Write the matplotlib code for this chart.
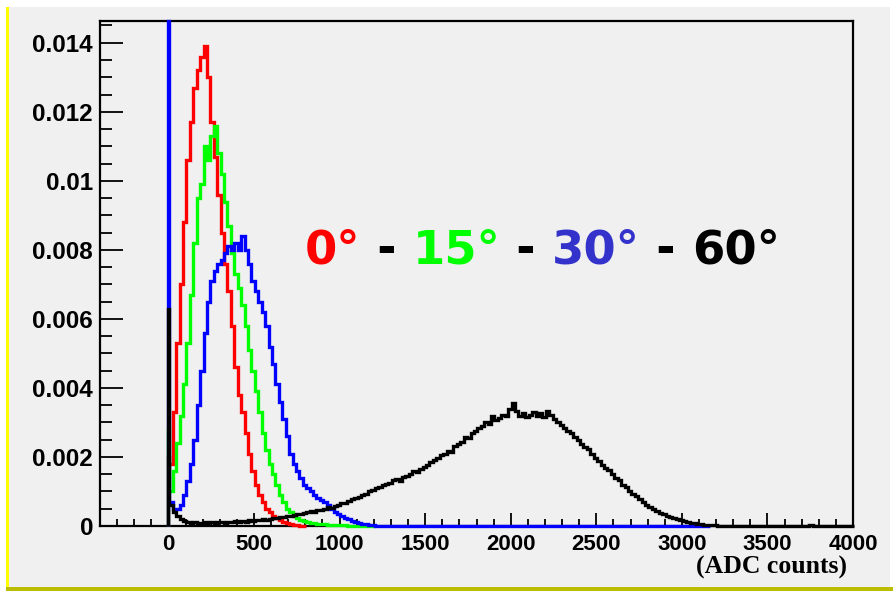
import numpy as np
import matplotlib
matplotlib.use('Agg')
import matplotlib.pyplot as plt
from matplotlib.patches import Rectangle
from matplotlib.ticker import FixedLocator, MultipleLocator

# histogram contents: first value is the narrow bin at 0, the rest are 20-count bins starting at 5
spike_width = 5
bin_width = 20

red_0deg = [0.0020,
            0.0018, 0.0033, 0.0053, 0.0070, 0.0088, 0.0106, 0.0117, 0.0127, 0.0132, 0.0136,
            0.0139, 0.0130, 0.0117, 0.0107, 0.0096, 0.0085, 0.0076, 0.0068, 0.0058, 0.0046,
            0.0038, 0.0033, 0.0027, 0.0021, 0.0016, 0.0012, 0.0009, 0.0007, 0.0005, 0.0004,
            0.0003, 0.00022, 0.00016, 0.00011, 0.00008, 0.00006, 0.00004, 0.00002, 0.00001, 0.00001]

green_15deg = [0.0028,
               0.0010, 0.0016, 0.0024, 0.0032, 0.0041, 0.0053, 0.0067, 0.0082, 0.0095, 0.0099,
               0.0110, 0.0106, 0.0113, 0.0116, 0.0108, 0.0102, 0.0094, 0.0087, 0.0079, 0.0073,
               0.0069, 0.0064, 0.0058, 0.0051, 0.0045, 0.0039, 0.0033, 0.0027, 0.0022, 0.0018,
               0.0015, 0.0012, 0.0009, 0.0007, 0.0005, 0.0004, 0.0003, 0.00023, 0.00018, 0.00014,
               0.00011, 0.0001, 0.00008, 0.00007, 0.00006, 0.00005, 0.00004, 0.00004, 0.00003, 0.00003,
               0.00002, 0.00002, 0.00001, 0.00001, 0.0, 0.0, 0.0, 0.0, 0.0, 0.00001]

blue_30deg = [0.01463,
              0.0007, 0.0005, 0.0005, 0.0006, 0.0009, 0.0013, 0.0018, 0.0025, 0.0035, 0.0045,
              0.0056, 0.0065, 0.0071, 0.0074, 0.0076, 0.0077, 0.0079, 0.0081, 0.0080, 0.0082,
              0.0080, 0.0084, 0.0080, 0.0076, 0.0071, 0.0068, 0.0065, 0.0062, 0.0058, 0.0052,
              0.0047, 0.0041, 0.0036, 0.0031, 0.0026, 0.0021, 0.0018, 0.0016, 0.0014, 0.0012,
              0.0011, 0.0010, 0.0009, 0.0008, 0.00075, 0.0007, 0.0006, 0.0005, 0.0004, 0.00035,
              0.0003, 0.00024, 0.0002, 0.00015, 0.00012, 0.0001, 0.00007, 0.00005, 0.00003, 0.00002] + [0.0] * 98

black_60deg = [0.0063,
               0.0006, 0.0004, 0.00028, 0.0002, 0.00014, 0.00011, 0.0001, 0.00012, 0.0001, 0.00009,
               0.00011, 0.0001, 0.00013, 0.0001, 0.00011, 0.00012, 0.0001, 0.00013, 0.00012, 0.00014,
               0.00011, 0.00015, 0.00013, 0.00016, 0.00015, 0.00018, 0.00016, 0.0002, 0.00018, 0.00021,
               0.00024, 0.00022, 0.00027, 0.00025, 0.0003, 0.00029, 0.00033, 0.00035, 0.00034, 0.00039,
               0.0004, 0.00043, 0.00042, 0.00047, 0.00046, 0.0005, 0.00054, 0.00053, 0.00059, 0.00062,
               0.00066, 0.00068, 0.00073, 0.00077, 0.00082, 0.00085, 0.00091, 0.00094, 0.001, 0.00104,
               0.0011, 0.00112, 0.00119, 0.00122, 0.00126, 0.00133, 0.00135, 0.00131, 0.00142, 0.00145,
               0.0015, 0.00158, 0.00155, 0.00166, 0.00172, 0.00176, 0.00186, 0.0019, 0.00198, 0.00205,
               0.0021, 0.00218, 0.00215, 0.00232, 0.00238, 0.00242, 0.00258, 0.00255, 0.00268, 0.00275,
               0.00284, 0.0029, 0.00302, 0.00296, 0.00318, 0.00306, 0.00312, 0.00322, 0.00318, 0.00338,
               0.00356, 0.00332, 0.00318, 0.00328, 0.00316, 0.00322, 0.0033, 0.00318, 0.00326, 0.00316,
               0.00332, 0.00322, 0.0031, 0.00302, 0.00294, 0.00283, 0.00275, 0.0027, 0.00258, 0.0025,
               0.00238, 0.00228, 0.00222, 0.0021, 0.00196, 0.00188, 0.00178, 0.00168, 0.00162, 0.0015,
               0.00138, 0.00132, 0.0012, 0.00112, 0.00102, 0.00094, 0.00086, 0.00078, 0.0007, 0.00062,
               0.00056, 0.0005, 0.00044, 0.00038, 0.00034, 0.0003, 0.00026, 0.00022, 0.0002, 0.00017,
               0.00015, 0.00012, 0.0001, 0.00008, 0.00007, 0.00005, 0.00004, 0.00003, 0.00002, 0.00002,
               0.00001] + [0.0] * 26 + [0.00003] + [0.0] * 12

series = [(red_0deg, '#ff0000'), (green_15deg, '#00ff00'),
          (blue_30deg, '#0000ff'), (black_60deg, '#000000')]

y_ticks = [0, 0.002, 0.004, 0.006, 0.008, 0.01, 0.012, 0.014]
y_labels = ['0', '0.002', '0.004', '0.006', '0.008', '0.01', '0.012', '0.014']
x_ticks = [0, 500, 1000, 1500, 2000, 2500, 3000, 3500, 4000]

title_parts = [('0°', '#ff0000'), (' - ', '#000000'), ('15°', '#00ff00'), (' - ', '#000000'),
               ('30°', '#3333cc'), (' - ', '#000000'), ('60°', '#000000')]

W, H = 893, 591
fig = plt.figure(figsize=(W / 100, H / 100), dpi=100, facecolor='white')

# pad background and coloured border lines
fig.patches.append(Rectangle((9 / W, 4 / H), 881 / W, 580 / H, transform=fig.transFigure,
                             facecolor='#f0f0f0', edgecolor='none', zorder=-10))
fig.patches.append(Rectangle((6 / W, 0), 3 / W, 584 / H, transform=fig.transFigure,
                             facecolor='#ffff00', edgecolor='none', zorder=-9))
fig.patches.append(Rectangle((6 / W, 0), 887 / W, 4 / H, transform=fig.transFigure,
                             facecolor='#bcbc00', edgecolor='none', zorder=-9))

ax = fig.add_axes([100 / W, 65 / H, 753 / W, 505 / H])
ax.set_facecolor('#f0f0f0')

for vals, col in series:
    vals = np.asarray(vals)
    edges = np.concatenate(([0.0], spike_width + bin_width * np.arange(len(vals))))
    ax.stairs(vals, edges, baseline=0, color=col, linewidth=2.4, zorder=3, clip_on=False)

ax.set_xlim(-400, 4000)
ax.set_ylim(0, 0.01463)

ax.xaxis.set_major_locator(FixedLocator(x_ticks))
ax.xaxis.set_minor_locator(MultipleLocator(100))
ax.set_xticklabels([str(v) for v in x_ticks])
ax.yaxis.set_major_locator(FixedLocator(y_ticks))
ax.yaxis.set_minor_locator(MultipleLocator(0.0005))
ax.set_yticklabels(y_labels)

ax.tick_params(which='both', direction='in', top=False, right=False, width=1.3, colors='black')
ax.tick_params(axis='x', which='major', length=9.5, pad=6)
ax.tick_params(axis='x', which='minor', length=5)
ax.tick_params(axis='y', which='major', length=16.5, pad=5)
ax.tick_params(axis='y', which='minor', length=8.5)
for lab in ax.get_yticklabels():
    lab.set_fontfamily('Liberation Sans')
    lab.set_fontweight('bold')
    lab.set_fontsize(17.5)
for lab in ax.get_xticklabels():
    lab.set_fontfamily('Liberation Sans')
    lab.set_fontweight('bold')
    lab.set_fontsize(16)
for s in ax.spines.values():
    s.set_linewidth(1.6)

fig.text(847 / W, 1 - 567 / H, '(ADC counts)', ha='right', va='center',
         fontfamily='Liberation Serif', fontweight='bold', fontsize=18.5)

# multi-coloured label, pieces placed one after the other
renderer = fig.canvas.get_renderer()
xpos = 305
for txt, col in title_parts:
    t = fig.text(xpos / W, 1 - 263 / H, txt, color=col, fontsize=33.5, fontweight='bold',
                 fontfamily='DejaVu Sans', ha='left', va='baseline')
    bb = t.get_window_extent(renderer)
    xpos = bb.x1

fig.savefig('out.png', dpi=100, facecolor=fig.get_facecolor())
